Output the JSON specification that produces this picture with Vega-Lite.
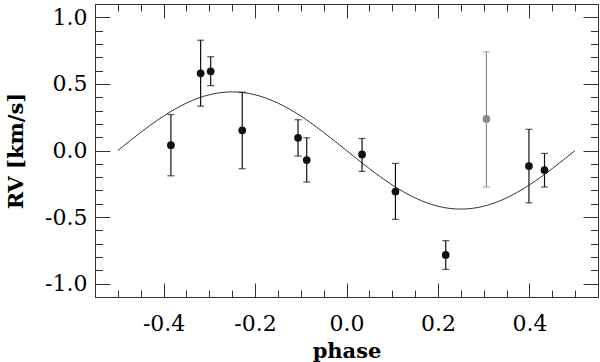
{
  "$schema": "https://vega.github.io/schema/vega-lite/v6.json",
  "width": 503,
  "height": 293,
  "autosize": {"type": "none"},
  "padding": {"left": 95, "top": 4, "right": 2, "bottom": 65},
  "background": "white",
  "config": {
    "view": {"stroke": null},
    "axis": {
      "grid": false,
      "domainColor": "#333333",
      "tickColor": "#333333",
      "domainWidth": 1,
      "tickWidth": 1,
      "labelFont": "DejaVu Serif",
      "labelFontSize": 22,
      "labelColor": "black",
      "titleFont": "DejaVu Serif",
      "titleFontSize": 21,
      "titleFontWeight": "bold",
      "titleColor": "black"
    }
  },
  "datasets": {
    "obs": [
      {"phase": -0.384, "rv": 0.04, "lo": -0.19, "hi": 0.27, "grp": "a"},
      {"phase": -0.319, "rv": 0.58, "lo": 0.333, "hi": 0.828, "grp": "a"},
      {"phase": -0.297, "rv": 0.595, "lo": 0.487, "hi": 0.704, "grp": "a"},
      {"phase": -0.228, "rv": 0.152, "lo": -0.137, "hi": 0.438, "grp": "a"},
      {"phase": -0.106, "rv": 0.095, "lo": -0.042, "hi": 0.231, "grp": "a"},
      {"phase": -0.087, "rv": -0.072, "lo": -0.237, "hi": 0.095, "grp": "a"},
      {"phase": 0.034, "rv": -0.03, "lo": -0.157, "hi": 0.09, "grp": "a"},
      {"phase": 0.107, "rv": -0.308, "lo": -0.517, "hi": -0.097, "grp": "a"},
      {"phase": 0.217, "rv": -0.784, "lo": -0.893, "hi": -0.677, "grp": "a"},
      {"phase": 0.306, "rv": 0.237, "lo": -0.274, "hi": 0.741, "grp": "b"},
      {"phase": 0.399, "rv": -0.117, "lo": -0.393, "hi": 0.159, "grp": "a"},
      {"phase": 0.433, "rv": -0.147, "lo": -0.274, "hi": -0.022, "grp": "a"}
    ],
    "model": [
      {"phase": -0.5, "rv": 0},
      {"phase": -0.475, "rv": 0.0688},
      {"phase": -0.45, "rv": 0.136},
      {"phase": -0.425, "rv": 0.1998},
      {"phase": -0.4, "rv": 0.2586},
      {"phase": -0.375, "rv": 0.3111},
      {"phase": -0.35, "rv": 0.356},
      {"phase": -0.325, "rv": 0.392},
      {"phase": -0.3, "rv": 0.4185},
      {"phase": -0.275, "rv": 0.4346},
      {"phase": -0.25, "rv": 0.44},
      {"phase": -0.225, "rv": 0.4346},
      {"phase": -0.2, "rv": 0.4185},
      {"phase": -0.175, "rv": 0.392},
      {"phase": -0.15, "rv": 0.356},
      {"phase": -0.125, "rv": 0.3111},
      {"phase": -0.1, "rv": 0.2586},
      {"phase": -0.075, "rv": 0.1998},
      {"phase": -0.05, "rv": 0.136},
      {"phase": -0.025, "rv": 0.0688},
      {"phase": 0, "rv": 0},
      {"phase": 0.025, "rv": -0.0688},
      {"phase": 0.05, "rv": -0.136},
      {"phase": 0.075, "rv": -0.1998},
      {"phase": 0.1, "rv": -0.2586},
      {"phase": 0.125, "rv": -0.3111},
      {"phase": 0.15, "rv": -0.356},
      {"phase": 0.175, "rv": -0.392},
      {"phase": 0.2, "rv": -0.4185},
      {"phase": 0.225, "rv": -0.4346},
      {"phase": 0.25, "rv": -0.44},
      {"phase": 0.275, "rv": -0.4346},
      {"phase": 0.3, "rv": -0.4185},
      {"phase": 0.325, "rv": -0.392},
      {"phase": 0.35, "rv": -0.356},
      {"phase": 0.375, "rv": -0.3111},
      {"phase": 0.4, "rv": -0.2586},
      {"phase": 0.425, "rv": -0.1998},
      {"phase": 0.45, "rv": -0.136},
      {"phase": 0.475, "rv": -0.0688},
      {"phase": 0.5, "rv": 0}
    ]
  },
  "resolve": {"axis": {"x": "independent", "y": "independent"}},
  "layer": [
    {
      "data": {"name": "model"},
      "mark": {"type": "line", "color": "black", "strokeWidth": 0.8, "interpolate": "monotone"},
      "encoding": {
        "x": {
          "field": "phase", "type": "quantitative",
          "scale": {"domain": [-0.55, 0.55], "nice": false, "zero": false},
          "axis": {
            "orient": "bottom", "values": [-0.4, -0.2, 0, 0.2, 0.4],
            "tickSize": -14, "labelPadding": 30, "labelFlush": false, "labelOverlap": false,
            "labelExpr": "replace(format(datum.value, '.1f'), '\u2212', '-')",
            "title": "phase", "titleY": 60, "titleBaseline": "alphabetic"
          }
        },
        "y": {
          "field": "rv", "type": "quantitative",
          "scale": {"domain": [-1.1, 1.1], "nice": false, "zero": false},
          "axis": {
            "orient": "left", "values": [-1, -0.5, 0, 0.5, 1],
            "tickSize": -15, "labelPadding": 23, "labelFlush": false, "labelOverlap": false,
            "labelExpr": "replace(format(datum.value, '.1f'), '\u2212', '-')",
            "title": "RV [km/s]", "titleX": -79, "titleY": 146.5, "titleAngle": 270,
            "titleAlign": "center", "titleBaseline": "middle"
          }
        }
      }
    },
    {
      "data": {"name": "obs"},
      "mark": {"type": "rule", "strokeWidth": 1.2},
      "encoding": {
        "x": {
          "field": "phase", "type": "quantitative",
          "axis": {
            "orient": "bottom",
            "values": [-0.5, -0.45, -0.35, -0.3, -0.25, -0.15, -0.1, -0.05, 0.05, 0.1, 0.15, 0.25, 0.3, 0.35, 0.45, 0.5],
            "tickSize": -7, "labels": false, "title": null
          }
        },
        "y": {
          "field": "lo", "type": "quantitative",
          "axis": {
            "orient": "left",
            "values": [-0.9, -0.8, -0.7, -0.6, -0.4, -0.3, -0.2, -0.1, 0.1, 0.2, 0.3, 0.4, 0.6, 0.7, 0.8, 0.9],
            "tickSize": -7.5, "labels": false, "title": null
          }
        },
        "y2": {"field": "hi"},
        "color": {"field": "grp", "type": "nominal", "scale": {"domain": ["a", "b"], "range": ["#111111", "#8a8a8a"]}, "legend": null}
      }
    },
    {
      "data": {"name": "obs"},
      "mark": {"type": "tick", "orient": "horizontal", "size": 7, "thickness": 1.2},
      "encoding": {
        "x": {
          "field": "phase", "type": "quantitative",
          "axis": {"orient": "top", "values": [-0.4, -0.2, 0, 0.2, 0.4], "tickSize": -14, "labels": false, "title": null}
        },
        "y": {
          "field": "lo", "type": "quantitative",
          "axis": {"orient": "right", "values": [-1, -0.5, 0, 0.5, 1], "tickSize": -15, "labels": false, "title": null}
        },
        "color": {"field": "grp", "type": "nominal", "legend": null}
      }
    },
    {
      "data": {"name": "obs"},
      "mark": {"type": "tick", "orient": "horizontal", "size": 7, "thickness": 1.2},
      "encoding": {
        "x": {
          "field": "phase", "type": "quantitative",
          "axis": {
            "orient": "top",
            "values": [-0.5, -0.45, -0.35, -0.3, -0.25, -0.15, -0.1, -0.05, 0.05, 0.1, 0.15, 0.25, 0.3, 0.35, 0.45, 0.5],
            "tickSize": -7, "labels": false, "title": null
          }
        },
        "y": {
          "field": "hi", "type": "quantitative",
          "axis": {
            "orient": "right",
            "values": [-0.9, -0.8, -0.7, -0.6, -0.4, -0.3, -0.2, -0.1, 0.1, 0.2, 0.3, 0.4, 0.6, 0.7, 0.8, 0.9],
            "tickSize": -7.5, "labels": false, "title": null
          }
        },
        "color": {"field": "grp", "type": "nominal", "legend": null}
      }
    },
    {
      "data": {"name": "obs"},
      "mark": {"type": "point", "filled": true, "size": 60, "opacity": 1},
      "encoding": {
        "x": {"field": "phase", "type": "quantitative", "axis": null},
        "y": {"field": "rv", "type": "quantitative", "axis": null},
        "color": {"field": "grp", "type": "nominal", "legend": null}
      }
    }
  ]
}
